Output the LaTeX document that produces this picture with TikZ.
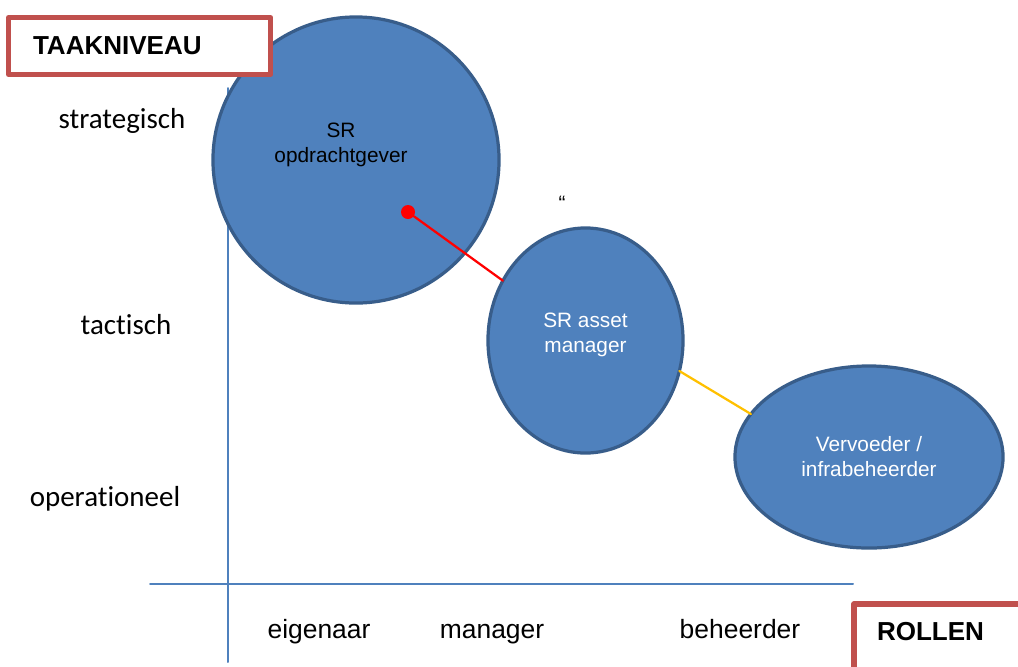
\documentclass[tikz,border=0pt]{standalone}
\usepackage{fontspec}
\setmainfont{Liberation Sans}
\newfontfamily\calibri[Ligatures=NoCommon]{Carlito}
\usetikzlibrary{shapes.geometric}
\definecolor{vlak}{RGB}{79,129,189}
\definecolor{rand}{RGB}{56,93,138}
\definecolor{kader}{RGB}{192,80,77}
\definecolor{oranje}{RGB}{255,192,0}
\begin{document}
\begin{tikzpicture}[x=0.025cm, y=-0.025cm, line join=round, line cap=round,
	bol/.style={ellipse, draw=rand, line width=2.3pt, fill=vlak, inner sep=0pt, outer sep=0pt, align=center, font=\fontsize{14.8}{17.8}\selectfont},
	kop/.style={draw=kader, line width=3.6pt, fill=white, anchor=north west, align=left, inner sep=0pt, outer sep=0pt, font=\fontsize{18.5}{22}\selectfont\bfseries},
	niveau/.style={anchor=base, font=\calibri\fontsize{20.6}{24}\selectfont},
	rol/.style={anchor=base, font=\fontsize{18.8}{22}\selectfont},
	as/.style={draw=vlak, line width=1.4pt}]
			\clip (0,0) rectangle (1018,666);
			% assen
			\coordinate (yboven) at (228,88); \coordinate (yonder) at (228,662);
			\coordinate (xlinks) at (150,584); \coordinate (xrechts) at (853,584);
			\draw[as] (yonder)--(yboven);
			\draw[as] (xlinks)--(xrechts);
			\node[niveau] (strat) at (122,128) {strategisch};
			\node[niveau] (tact) at (126,334) {tactisch};
			\node[niveau] (oper) at (105,506) {operationeel};
			\node[rol] (eig) at (319,638) {eigenaar};
			\node[rol] (man) at (492,638) {manager};
			\node[rol] (beh) at (740,638) {beheerder};
			% rollen
			\node[bol, minimum width=7.15cm, minimum height=7.15cm] (opdr) at (356,160) {};
			\node[font=\fontsize{14.8}{17.8}\selectfont, align=center] (opdrtxt) at (341,145) {SR\\opdrachtgever};
			\node[bol, text=white, text depth=11.7pt, minimum width=4.875cm, minimum height=5.625cm] (asset) at (585.5,340.5) {SR asset\\manager};
			\node[bol, text=white, minimum width=6.7cm, minimum height=4.55cm] (vervoeder) at (869,457) {Vervoeder /\\infrabeheerder};
			\node[circle, fill=red, inner sep=0pt, minimum size=0.35cm] (punt) at (408,212) {};
			\draw[red, line width=1.6pt] (punt)--(asset);
			\draw[oranje, line width=1.6pt] (asset.-18)--(vervoeder.160);
			\node[font=\fontsize{14.8}{17}\selectfont] (aanh) at (562,203) {“};
			% kaders
			\node[kop, minimum height=1.425cm, inner xsep=0.6125cm, text width=5.325cm] (taak) at (8.5,17.5) {TAAKNIVEAU};
			\node[kop, inner xsep=0.575cm, inner ysep=0.47cm, text width=4cm, text depth=2cm] (rollen) at (854,604) {ROLLEN};
\end{tikzpicture}
\end{document}
